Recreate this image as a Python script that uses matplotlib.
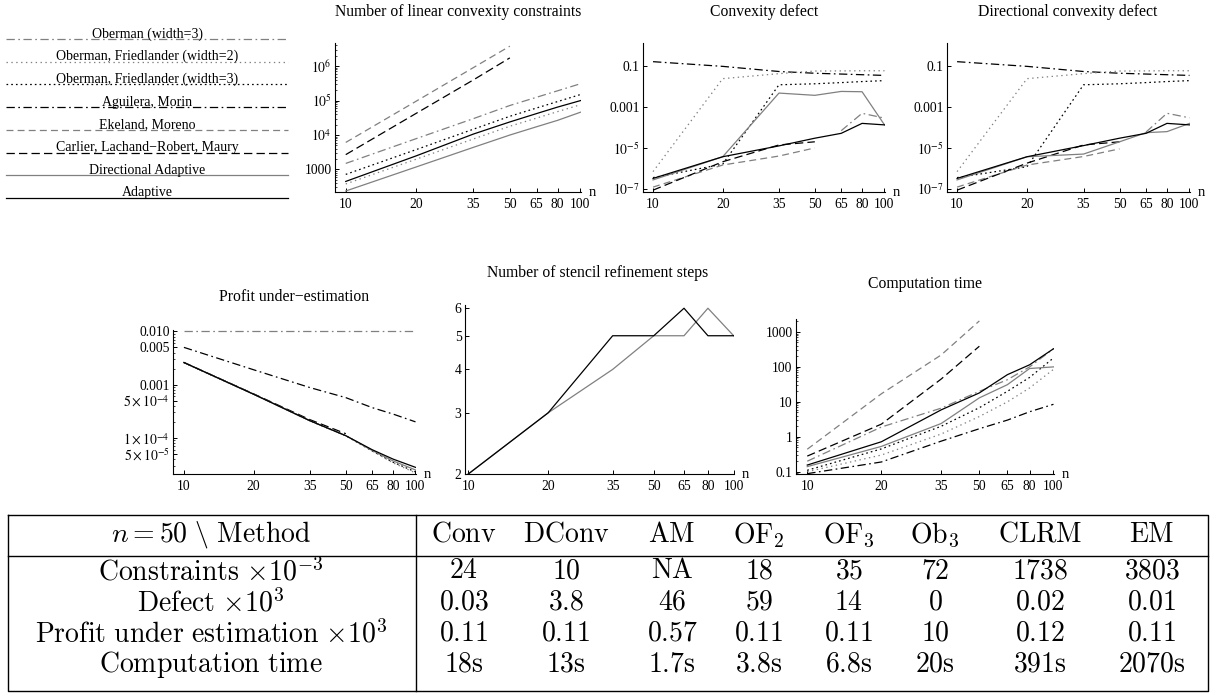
import numpy as np
import matplotlib
matplotlib.use('Agg')
import matplotlib.pyplot as plt
from matplotlib.ticker import FixedLocator, FixedFormatter, NullLocator, NullFormatter, LogLocator

plt.rcParams['font.family'] = ['Liberation Serif', 'DejaVu Serif']
plt.rcParams['mathtext.fontset'] = 'stix'
plt.rcParams['lines.scale_dashes'] = False

# ---------------- data ----------------
n = [10, 20, 35, 50, 65, 80, 100]
n4 = [10, 20, 35, 50]
n_ticks = [10, 20, 35, 50, 65, 80, 100]
n_tick_labels = ['10', '20', '35', '50', '65', '80', '100']

legend_names = ['Oberman (width=3)', 'Oberman, Friedlander (width=2)',
                'Oberman, Friedlander (width=3)', 'Aguilera, Morin',
                'Ekeland, Moreno', 'Carlier, Lachand\u2212Robert, Maury',
                'Directional Adaptive', 'Adaptive']

# Number of linear convexity constraints
ob3_c = [1500, 7900, 30000, 72000, 125000, 193000, 309000]
of2_c = [380, 2000, 7700, 18000, 31000, 48000, 76000]
of3_c = [720, 3800, 14800, 35000, 61000, 94000, 150000]
em_c = [6100, 97000, 910000, 3803000]
clrm_c = [2700, 43000, 400000, 1738000]
da_c = [237, 1190, 4400, 10000, 17400, 26800, 46000]
ad_c = [450, 2500, 10700, 24000, 42000, 65000, 100000]

# Convexity defect
am_d = [0.17, 0.1, 0.056, 0.046, 0.042, 0.039, 0.036]
of2_d = [6.9e-7, 0.025, 0.044, 0.059, 0.060, 0.061, 0.061]
of3_d = [3.5e-7, 1.6e-6, 0.0125, 0.014, 0.016, 0.018, 0.020]
ob3_d = [0, 0, 0, 0, 7e-5, 5e-4, 2.9e-4]
da_d = [2.7e-7, 3.7e-6, 0.0049, 0.0038, 0.0059, 0.0057, 1.35e-4]
ad_d = [3.2e-7, 3.7e-6, 1.26e-5, 3e-5, 5.2e-5, 1.6e-4, 1.35e-4]
clrm_d = [8.5e-8, 2.1e-6, 1.4e-5, 2e-5]
em_d = [1.2e-7, 1.45e-6, 4e-6, 1e-5]

# Directional convexity defect
am_dd = [0.17, 0.1, 0.056, 0.046, 0.042, 0.039, 0.036]
of2_dd = [6.9e-7, 0.025, 0.044, 0.059, 0.060, 0.061, 0.061]
of3_dd = [3.5e-7, 1.2e-6, 0.0125, 0.014, 0.016, 0.018, 0.020]
ob3_dd = [0, 0, 0, 0, 6e-5, 5e-4, 3e-4]
da_dd = [2.7e-7, 3.7e-6, 5e-6, 2e-5, 5.6e-5, 6.3e-5, 1.6e-4]
ad_dd = [3.2e-7, 3.7e-6, 1.3e-5, 3e-5, 5.2e-5, 1.6e-4, 1.35e-4]
clrm_dd = [8.5e-8, 1.8e-6, 1.4e-5, 2e-5]
em_dd = [1.2e-7, 1.45e-6, 3.8e-6, 9e-6]

# Profit under-estimation
ob3_p = [0.0100, 0.0100, 0.0100, 0.0100, 0.0100, 0.0100, 0.0100]
am_p = [0.005, 0.0019, 0.00088, 0.00057, 0.00037, 0.00028, 0.0002]
ad_p = [0.0026, 0.00066, 0.00021, 0.00011, 6.0e-5, 4.0e-5, 2.8e-5]
da_p = [0.0026, 0.00066, 0.00021, 0.00011, 5.8e-5, 3.7e-5, 2.5e-5]
of2_p = [0.0026, 0.00066, 0.00021, 0.00011, 5.7e-5, 3.4e-5, 2.2e-5]
of3_p = [0.0026, 0.00066, 0.00021, 0.00011, 5.7e-5, 3.5e-5, 2.3e-5]
clrm_p = [0.0026, 0.00067, 0.00022, 0.00012]
em_p = [0.0026, 0.00066, 0.00021, 0.00011]

# Number of stencil refinement steps
ad_s = [2, 3, 5, 5, 6, 5, 5]
da_s = [2, 3, 4, 5, 5, 6, 5]

# Computation time
em_t = [0.44, 17, 220, 2070]
clrm_t = [0.28, 2.3, 45, 391]
ob3_t = [0.2, 1.9, 6.6, 20, 43, 100, 330]
ad_t = [0.155, 0.72, 5.9, 18, 60, 115, 330]
da_t = [0.14, 0.53, 2.4, 13, 31, 90, 100]
of3_t = [0.11, 0.45, 2.0, 6.8, 20, 50, 180]
of2_t = [0.10, 0.30, 1.2, 3.8, 10, 25, 85]
am_t = [0.088, 0.19, 0.75, 1.7, 3.0, 5.2, 8.5]

# Table
table_header = [r'$n = 50\ \backslash\ \mathrm{Method}$', r'$\mathrm{Conv}$', r'$\mathrm{DConv}$',
                r'$\mathrm{AM}$', r'$\mathrm{OF}_2$', r'$\mathrm{OF}_3$', r'$\mathrm{Ob}_3$',
                r'$\mathrm{CLRM}$', r'$\mathrm{EM}$']
table_rows = [
    [r'$\mathrm{Constraints}\ {\times 10^{-3}}$', '24', '10', 'NA', '18', '35', '72', '1738', '3803'],
    [r'$\mathrm{Defect}\ {\times 10^{3}}$', '0.03', '3.8', '46', '59', '14', '0', '0.02', '0.01'],
    [r'$\mathrm{Profit\ under\ estimation}\ {\times 10^{3}}$', '0.11', '0.11', '0.57', '0.11', '0.11', '10', '0.12', '0.11'],
    [r'$\mathrm{Computation\ time}$', '18s', '13s', '1.7s', '3.8s', '6.8s', '20s', '391s', '2070s'],
]

# ---------------- styles ----------------
GRAY = '0.5'
DASHDOT = (0, (6, 2.5, 1.2, 2.5))
styles = {
    'ob3': dict(color=GRAY, ls=DASHDOT),
    'of2': dict(color=GRAY, ls=(0, (1, 2.5))),
    'of3': dict(color='k', ls=(0, (1.2, 2.2))),
    'am': dict(color='k', ls=DASHDOT),
    'em': dict(color=GRAY, ls=(0, (5, 3))),
    'clrm': dict(color='k', ls=(0, (6, 3))),
    'da': dict(color=GRAY, ls='-'),
    'ad': dict(color='k', ls='-'),
}
order = ['ob3', 'of2', 'of3', 'am', 'em', 'clrm', 'da', 'ad']
LW = 0.9

W, H = 1218, 698
fig = plt.figure(figsize=(W / 100, H / 100), dpi=100)


def px_axes(x0, y0, x1, y1):
    return fig.add_axes([x0 / W, 1 - y1 / H, (x1 - x0) / W, (y1 - y0) / H])


def style(ax, xlim, ylim, yticks, ylabels, minor=True):
    ax.set_xscale('log')
    ax.set_yscale('log')
    ax.set_xlim(*xlim)
    ax.set_ylim(*ylim)
    for s in ['top', 'right']:
        ax.spines[s].set_visible(False)
    for s in ['left', 'bottom']:
        ax.spines[s].set_linewidth(0.8)
    ax.xaxis.set_major_locator(FixedLocator(n_ticks))
    ax.xaxis.set_major_formatter(FixedFormatter(n_tick_labels))
    ax.xaxis.set_minor_locator(NullLocator())
    ax.yaxis.set_major_locator(FixedLocator(yticks))
    ax.yaxis.set_major_formatter(FixedFormatter(ylabels))
    if minor:
        ax.yaxis.set_minor_locator(LogLocator(base=10, subs=np.arange(2, 10)))
    else:
        ax.yaxis.set_minor_locator(NullLocator())
    ax.yaxis.set_minor_formatter(NullFormatter())
    ax.tick_params(which='major', direction='in', length=3, width=0.7, labelsize=9.8)
    ax.tick_params(axis='x', pad=4.5)
    ax.tick_params(axis='y', pad=2.5)
    ax.tick_params(which='minor', direction='in', length=1.5, width=0.5)
    ax.annotate('n', xy=(1, 0), xycoords='axes fraction', xytext=(8, 0),
                textcoords='offset points', ha='center', va='center', fontsize=10.5)


def draw(ax, key, x, y):
    y = np.ma.masked_less_equal(np.asarray(y, dtype=float), 0)
    ax.plot(x, y, lw=LW, **styles[key])


# Plot 1: constraints
ax1 = px_axes(335, 43, 581, 192)
for key, x, y in [('ob3', n, ob3_c), ('of2', n, of2_c), ('of3', n, of3_c), ('em', n4, em_c),
                  ('clrm', n4, clrm_c), ('da', n, da_c), ('ad', n, ad_c)]:
    draw(ax1, key, x, y)
style(ax1, (9.0, 100.5), (222, 4.7e6), [1e3, 1e4, 1e5, 1e6],
      ['1000', r'$10^4$', r'$10^5$', r'$10^6$'])

# Plot 2: convexity defect
ax2 = px_axes(643, 43, 885, 192)
for key, x, y in [('am', n, am_d), ('of2', n, of2_d), ('of3', n, of3_d), ('ob3', n, ob3_d),
                  ('em', n4, em_d), ('clrm', n4, clrm_d), ('da', n, da_d), ('ad', n, ad_d)]:
    draw(ax2, key, x, y)
style(ax2, (9.05, 100.5), (6.9e-8, 1.4), [1e-7, 1e-5, 1e-3, 1e-1],
      [r'$10^{-7}$', r'$10^{-5}$', '0.001', '0.1'])

# Plot 3: directional convexity defect
ax3 = px_axes(947, 43, 1190, 192)
for key, x, y in [('am', n, am_dd), ('of2', n, of2_dd), ('of3', n, of3_dd), ('ob3', n, ob3_dd),
                  ('em', n4, em_dd), ('clrm', n4, clrm_dd), ('da', n, da_dd), ('ad', n, ad_dd)]:
    draw(ax3, key, x, y)
style(ax3, (9.05, 100.5), (6.9e-8, 1.4), [1e-7, 1e-5, 1e-3, 1e-1],
      [r'$10^{-7}$', r'$10^{-5}$', '0.001', '0.1'])

# Plot 4: profit under-estimation
ax4 = px_axes(173, 330, 416, 474)
for key, x, y in [('ob3', n, ob3_p), ('am', n, am_p), ('of2', n, of2_p), ('of3', n, of3_p),
                  ('em', n4, em_p), ('clrm', n4, clrm_p), ('da', n, da_p), ('ad', n, ad_p)]:
    draw(ax4, key, x, y)
style(ax4, (8.97, 100.5), (2.1e-5, 0.0106), [5e-5, 1e-4, 5e-4, 1e-3, 5e-3, 1e-2],
      [r'$5\times10^{-5}$', r'$1\times10^{-4}$', r'$5\times10^{-4}$', '0.001', '0.005', '0.010'])

# Plot 5: stencil refinement steps
ax5 = px_axes(465, 305, 734, 474)
draw(ax5, 'da', n, da_s)
draw(ax5, 'ad', n, ad_s)
style(ax5, (9.72, 100.3), (2, 6.13), [2, 3, 4, 5, 6], ['2', '3', '4', '5', '6'], minor=False)

# Plot 6: computation time
ax6 = px_axes(796, 319, 1054, 474)
for key, x, y in [('em', n4, em_t), ('clrm', n4, clrm_t), ('ob3', n, ob3_t), ('of3', n, of3_t),
                  ('of2', n, of2_t), ('am', n, am_t), ('da', n, da_t), ('ad', n, ad_t)]:
    draw(ax6, key, x, y)
style(ax6, (9.0, 100.5), (0.086, 2350), [0.1, 1, 10, 100, 1000],
      ['0.1', '1', '10', '100', '1000'])

# ---------------- overlay: titles, legend, table ----------------
ov = fig.add_axes([0, 0, 1, 1], zorder=-1)
ov.set_xlim(0, W)
ov.set_ylim(H, 0)
ov.axis('off')

titles = [('Number of linear convexity constraints', 458, 12),
          ('Convexity defect', 764, 12),
          ('Directional convexity defect', 1068, 12),
          ('Profit under\u2212estimation', 294, 297),
          ('Number of stencil refinement steps', 598, 273),
          ('Computation time', 925, 284)]
for t, x, y in titles:
    ov.text(x, y, t, ha='center', va='center', fontsize=11.3)

for i, (key, name) in enumerate(zip(order, legend_names)):
    y = 39 + i * 22.7
    ov.plot([6, 288], [y, y], lw=LW, **styles[key])
    ov.text(147, y - 1.5, name, ha='center', va='baseline', fontsize=10)

# table
tx0, tx1 = 8, 1208
ty0, ty_head, ty1 = 515, 556, 691
sep_x = 416
col_x = [211, 464, 566, 672, 759, 849, 935, 1040, 1152]
row_y = [535, 572, 603, 634, 665]
tlw = 1.0
ov.plot([tx0, tx1, tx1, tx0, tx0], [ty0, ty0, ty1, ty1, ty0], color='k', lw=tlw)
ov.plot([tx0, tx1], [ty_head, ty_head], color='k', lw=tlw)
ov.plot([sep_x, sep_x], [ty0, ty1], color='k', lw=tlw)
TFS = 20
for j, txt in enumerate(table_header):
    ov.text(col_x[j], row_y[0], txt, ha='center', va='center', fontsize=TFS, math_fontfamily='cm')
for i, row in enumerate(table_rows):
    for j, txt in enumerate(row):
        s = txt if txt.startswith('$') else r'$\mathrm{' + txt + '}$'
        ov.text(col_x[j], row_y[i + 1], s, ha='center', va='center', fontsize=TFS, math_fontfamily='cm')

fig.savefig('out.png', dpi=100)
